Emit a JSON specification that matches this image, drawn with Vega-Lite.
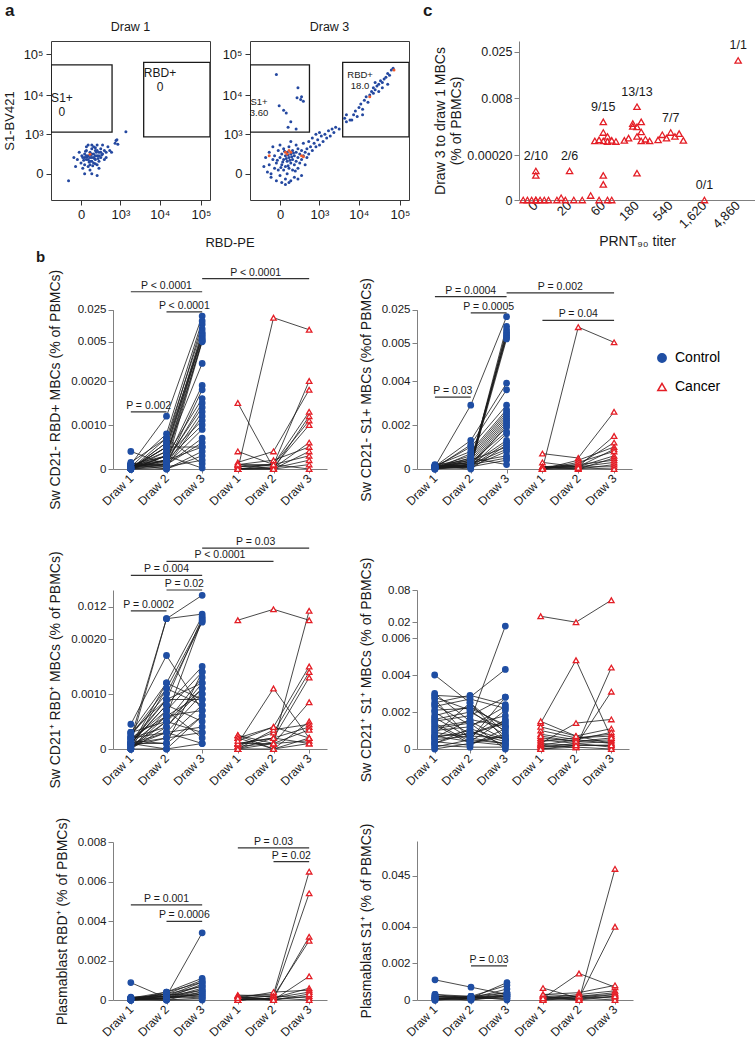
{
"$schema":"https://vega.github.io/schema/vega-lite/v6.json",
"padding":{"left":3,"top":2,"right":0,"bottom":0},
"background":"white",
"config":{"font":"Liberation Sans","view":{"stroke":null},
 "axis":{"grid":false,"labelFontSize":12,"titleFontSize":14,"titleFontWeight":"normal","labelColor":"#1a1a1a","titleColor":"#1a1a1a","domainColor":"#808080","tickColor":"#808080","labelOverlap":false,"labelSeparation":-8,"labelFlush":false},
 "title":{"fontWeight":"normal","fontSize":12,"color":"#1a1a1a"}},
"datasets":{
"f1":[{"x":-125,"y":-60},{"x":0,"y":103},{"x":13,"y":182},{"x":28,"y":81},{"x":28,"y":250},{"x":44,"y":153},{"x":44,"y":334},{"x":61,"y":61},{"x":61,"y":215},{"x":81,"y":127},{"x":81,"y":290},{"x":81,"y":28},{"x":103,"y":182},{"x":103,"y":382},{"x":127,"y":103},{"x":127,"y":250},{"x":153,"y":153},{"x":153,"y":334},{"x":182,"y":215},{"x":182,"y":81},{"x":215,"y":290},{"x":215,"y":127},{"x":250,"y":382},{"x":250,"y":182},{"x":290,"y":250},{"x":334,"y":334},{"x":334,"y":153},{"x":382,"y":290},{"x":435,"y":435},{"x":494,"y":334},{"x":61,"y":494},{"x":103,"y":494},{"x":182,"y":494},{"x":-28,"y":153},{"x":-44,"y":61},{"x":-13,"y":290},{"x":28,"y":0},{"x":103,"y":0},{"x":182,"y":-13},{"x":44,"y":435},{"x":290,"y":494},{"x":127,"y":435},{"x":13,"y":44},{"x":215,"y":44},{"x":-61,"y":182},{"x":71,"y":115},{"x":92,"y":232},{"x":140,"y":168},{"x":52,"y":198},{"x":168,"y":290},{"x":115,"y":71},{"x":559,"y":290},{"x":382,"y":182},{"x":20,"y":140},{"x":198,"y":168},{"x":36,"y":311},{"x":270,"y":232},{"x":6,"y":215},{"x":81,"y":81},{"x":153,"y":408},{"x":711,"y":559},{"x":799,"y":711},{"x":847,"y":526},{"x":753,"y":671},{"x":1398,"y":1188},{"x":61,"y":153},{"x":103,"y":250},{"x":153,"y":215},{"x":127,"y":182},{"x":81,"y":182},{"x":44,"y":215},{"x":103,"y":127},{"x":182,"y":334},{"x":215,"y":215},{"x":250,"y":290},{"x":28,"y":182},{"x":153,"y":94},{"x":81,"y":245,"h":1}],
"f3":[{"x":-182,"y":61},{"x":-153,"y":182},{"x":-127,"y":13},{"x":-103,"y":290},{"x":-103,"y":81},{"x":-81,"y":-28},{"x":-61,"y":153},{"x":-61,"y":435},{"x":-44,"y":44},{"x":-44,"y":215},{"x":-28,"y":-61},{"x":-28,"y":103},{"x":-13,"y":334},{"x":-13,"y":28},{"x":0,"y":182},{"x":0,"y":-13},{"x":0,"y":494},{"x":13,"y":81},{"x":13,"y":250},{"x":13,"y":-81},{"x":28,"y":153},{"x":28,"y":382},{"x":28,"y":28},{"x":44,"y":215},{"x":44,"y":61},{"x":44,"y":-44},{"x":61,"y":127},{"x":61,"y":290},{"x":61,"y":0},{"x":81,"y":182},{"x":81,"y":435},{"x":81,"y":44},{"x":81,"y":-81},{"x":103,"y":250},{"x":103,"y":103},{"x":103,"y":631},{"x":127,"y":153},{"x":127,"y":28},{"x":127,"y":334},{"x":153,"y":215},{"x":153,"y":81},{"x":153,"y":-28},{"x":182,"y":290},{"x":182,"y":127},{"x":182,"y":494},{"x":215,"y":182},{"x":215,"y":44},{"x":215,"y":382},{"x":250,"y":250},{"x":250,"y":103},{"x":290,"y":334},{"x":290,"y":153},{"x":290,"y":-13},{"x":334,"y":215},{"x":334,"y":559},{"x":382,"y":290},{"x":382,"y":81},{"x":435,"y":382},{"x":435,"y":182},{"x":494,"y":250},{"x":494,"y":631},{"x":559,"y":435},{"x":631,"y":334},{"x":711,"y":559},{"x":799,"y":435},{"x":20,"y":115},{"x":52,"y":168},{"x":71,"y":232},{"x":92,"y":140},{"x":36,"y":311},{"x":115,"y":198},{"x":140,"y":270},{"x":6,"y":52},{"x":168,"y":20},{"x":-20,"y":140},{"x":71,"y":71},{"x":44,"y":-103},{"x":103,"y":-61},{"x":215,"y":-44},{"x":-81,"y":0},
{"x":896,"y":711},{"x":1003,"y":494},{"x":1122,"y":896},{"x":1253,"y":631},{"x":1398,"y":1003},{"x":1559,"y":799},{"x":1737,"y":1253},{"x":1932,"y":896},{"x":2150,"y":1398},{"x":2386,"y":1122},{"x":2649,"y":1559},{"x":3250,"y":1398},{"x":1003,"y":1122},{"x":631,"y":799},{"x":799,"y":1003},
{"x":4450,"y":2649},{"x":4931,"y":2150},{"x":4931,"y":3250},{"x":6050,"y":2386},{"x":7418,"y":3250},{"x":8210,"y":4015},{"x":9090,"y":2941},{"x":10060,"y":4931},{"x":11130,"y":6050},{"x":12310,"y":4450},{"x":13620,"y":7418},{"x":15060,"y":9090},{"x":16660,"y":6700},{"x":18430,"y":10060},{"x":20380,"y":12310},{"x":22540,"y":11130},{"x":22540,"y":15060},{"x":24920,"y":13620},{"x":27550,"y":16660},{"x":30460,"y":18430},{"x":30460,"y":12310},{"x":33680,"y":22540},{"x":37240,"y":20380},{"x":37240,"y":15060},{"x":41160,"y":24920},{"x":45500,"y":27550},{"x":50300,"y":18430},{"x":50300,"y":33680},{"x":55610,"y":30460},{"x":61460,"y":41160},{"x":67950,"y":45500},{"x":24920,"y":20380},{"x":6700,"y":2386},{"x":12310,"y":3250},
{"x":-28,"y":32030},{"x":215,"y":15060},{"x":198,"y":8640},{"x":270,"y":7800},{"x":334,"y":7050},{"x":290,"y":9090},{"x":-6,"y":5463},{"x":28,"y":4226},{"x":52,"y":3620},{"x":103,"y":2150},{"x":71,"y":1559},{"x":182,"y":1398},
{"x":44,"y":290,"h":1},{"x":81,"y":334,"h":1},{"x":61,"y":250,"h":1},{"x":103,"y":290,"h":1},{"x":290,"y":215,"h":1},{"x":334,"y":198,"h":1},{"x":-103,"y":215,"h":1},{"x":18430,"y":9090,"h":1},{"x":71440,"y":41160,"h":1}],
"g1":[{"x1":-540,"x2":580,"y1":1150,"y2":55000},{"x1":3980,"x2":165000,"y1":850,"y2":63000}],
"g3":[{"x1":-540,"x2":520,"y1":1150,"y2":55000},{"x1":3980,"x2":165000,"y1":850,"y2":63000}],
"l1":[{"x":-236,"y":11480,"lab":"S1+\n0"},{"x":10060,"y":45000,"lab":"RBD+\n0"}],
"l3":[{"x":-277,"y":9175,"lab":"S1+\n3.60"},{"x":10700,"y":40340,"lab":"RBD+\n18.0"}],
"cpts":[{"t":"0","j":3,"v":0.00013},{"t":"0","j":3,"v":0.00011},{"t":"0","j":0,"v":0},{"t":"0","j":1,"v":0},{"t":"0","j":2,"v":0},{"t":"0","j":3,"v":0},{"t":"0","j":4,"v":0},{"t":"0","j":5,"v":0},{"t":"0","j":6,"v":0},{"t":"0","j":3,"v":0},
{"t":"20","j":3,"v":0.00013},{"t":"20","j":1,"v":0.00001},{"t":"20","j":0,"v":0},{"t":"20","j":2,"v":0},{"t":"20","j":4,"v":0},{"t":"20","j":6,"v":0},
{"t":"60","j":3,"v":0.0038},{"t":"60","j":3,"v":0.0019},{"t":"60","j":4,"v":0.0012},{"t":"60","j":2,"v":0.0006},{"t":"60","j":5,"v":0.0005},{"t":"60","j":1,"v":0.0004},{"t":"60","j":3,"v":0.0004},{"t":"60","j":4,"v":0.0003},{"t":"60","j":6,"v":0.0003},{"t":"60","j":3,"v":0.00011},{"t":"60","j":3,"v":0.00007},{"t":"60","j":0,"v":0.00002},{"t":"60","j":2,"v":0},{"t":"60","j":4,"v":0},{"t":"60","j":5,"v":0},
{"t":"180","j":3,"v":0.0065},{"t":"180","j":4,"v":0.0038},{"t":"180","j":2,"v":0.0035},{"t":"180","j":2,"v":0.003},{"t":"180","j":3,"v":0.0029},{"t":"180","j":4,"v":0.002},{"t":"180","j":3,"v":0.0012},{"t":"180","j":1,"v":0.0009},{"t":"180","j":5,"v":0.0007},{"t":"180","j":0,"v":0.0005},{"t":"180","j":6,"v":0.0004},{"t":"180","j":4,"v":0.0004},{"t":"180","j":3,"v":0.00012},
{"t":"540","j":3,"v":0.0019},{"t":"540","j":5,"v":0.0017},{"t":"540","j":1,"v":0.0015},{"t":"540","j":4,"v":0.0012},{"t":"540","j":2,"v":0.0009},{"t":"540","j":0,"v":0.0006},{"t":"540","j":6,"v":0.0005},
{"t":"1,620","j":3,"v":0},{"t":"4,860","j":3,"v":0.021}],
"clab":[{"t":"0","lab":"2/10","v":0.00013},{"t":"20","lab":"2/6","v":0.00013},{"t":"60","lab":"9/15","v":0.0038},{"t":"180","lab":"13/13","v":0.0065},{"t":"540","lab":"7/7","v":0.0019},{"t":"1,620","lab":"0/1","v":0},{"t":"4,860","lab":"1/1","v":0.021}],
"b1":[{"s":1,"g":"Control","1":0.0001,"2":0.0012,"3":0.021},{"s":2,"g":"Control","1":0.00005,"2":0.0008,"3":0.018},{"s":3,"g":"Control","1":0,"2":0.0006,"3":0.016},{"s":4,"g":"Control","1":0.00015,"2":0.0007,"3":0.013},{"s":5,"g":"Control","1":0,"2":0.0005,"3":0.011},{"s":6,"g":"Control","1":0.00005,"2":0.0004,"3":0.01},{"s":7,"g":"Control","1":0.0001,"2":0.0003,"3":0.009},{"s":8,"g":"Control","1":0,"2":0.0006,"3":0.008},{"s":9,"g":"Control","1":0.00002,"2":0.0005,"3":0.007},{"s":10,"g":"Control","1":0.0001,"2":0.0002,"3":0.006},{"s":11,"g":"Control","1":0,"2":0.0003,"3":0.0055},{"s":12,"g":"Control","1":0.00005,"2":0.0001,"3":0.005},{"s":13,"g":"Control","1":0,"2":0.0004,"3":0.0024},{"s":14,"g":"Control","1":0.00003,"2":0.0002,"3":0.0019},{"s":15,"g":"Control","1":0.0001,"2":0.0001,"3":0.0018},{"s":16,"g":"Control","1":0,"2":0.0003,"3":0.0016},{"s":17,"g":"Control","1":0.00005,"2":0.00015,"3":0.0015},{"s":18,"g":"Control","1":0,"2":0.0002,"3":0.0014},{"s":19,"g":"Control","1":0.00002,"2":0.0001,"3":0.0013},{"s":20,"g":"Control","1":0.0001,"2":0.00005,"3":0.0012},{"s":21,"g":"Control","1":0,"2":0.0003,"3":0.0011},{"s":22,"g":"Control","1":0.00005,"2":0.0002,"3":0.001},{"s":23,"g":"Control","1":0,"2":0.0001,"3":0.0007},{"s":24,"g":"Control","1":0.0004,"2":0.0001,"3":0.0006},{"s":25,"g":"Control","1":0.00002,"2":0.0005,"3":0.0005},{"s":26,"g":"Control","1":0.0001,"2":0,"3":0.0004},{"s":27,"g":"Control","1":0,"2":0.0007,"3":0.00012},{"s":28,"g":"Control","1":0.00005,"2":0.0003,"3":0.00002},{"s":29,"g":"Control","1":0,"2":0,"3":0.0003},{"s":30,"g":"Control","1":0.00012,"2":0.0001,"3":0.0009},{"s":31,"g":"Control","1":0,"2":0.00005,"3":0.0002},{"s":32,"g":"Control","1":0.00003,"2":0.0002,"3":0.0005},
{"s":101,"g":"Cancer","4":0,"5":0.02,"6":0.0125},{"s":102,"g":"Cancer","4":0.0015,"5":0.00002,"6":0.0006},{"s":103,"g":"Cancer","4":0.0004,"5":0.0001,"6":0.002},{"s":104,"g":"Cancer","4":0.00015,"5":0.0004,"6":0.0018},{"s":105,"g":"Cancer","4":0.0001,"5":0.0001,"6":0.0013},{"s":106,"g":"Cancer","4":0,"5":0,"6":0.0012},{"s":107,"g":"Cancer","4":0.00005,"5":0.0001,"6":0.0011},{"s":108,"g":"Cancer","4":0,"5":0.00005,"6":0.001},{"s":109,"g":"Cancer","4":0.0001,"5":0.0002,"6":0.0005},{"s":110,"g":"Cancer","4":0,"5":0,"6":0.0004},{"s":111,"g":"Cancer","4":0.00005,"5":0.0001,"6":0.0003},{"s":112,"g":"Cancer","4":0,"5":0.00002,"6":0.0002},{"s":113,"g":"Cancer","4":0.0001,"5":0,"6":0.0001},{"s":114,"g":"Cancer","4":0,"5":0.0001,"6":0}],
"b2":[{"s":1,"g":"Control","1":0.0001,"2":0.0029,"3":0.0208},{"s":2,"g":"Control","1":0.00005,"2":0.0002,"3":0.015},{"s":3,"g":"Control","1":0.0001,"2":0.0001,"3":0.013},{"s":4,"g":"Control","1":0.00015,"2":0.0003,"3":0.0115},{"s":5,"g":"Control","1":0.00002,"2":0.0001,"3":0.0105},{"s":6,"g":"Control","1":0.0001,"2":0.0002,"3":0.0095},{"s":7,"g":"Control","1":0.00008,"2":0.0004,"3":0.0085},{"s":8,"g":"Control","1":0.0001,"2":0.0001,"3":0.0075},{"s":9,"g":"Control","1":0.00012,"2":0.0013,"3":0.0039},{"s":10,"g":"Control","1":0.00005,"2":0.0011,"3":0.0036},{"s":11,"g":"Control","1":0.0001,"2":0.001,"3":0.0029},{"s":12,"g":"Control","1":0.00015,"2":0.0008,"3":0.0027},{"s":13,"g":"Control","1":0,"2":0.0007,"3":0.0026},{"s":14,"g":"Control","1":0.0001,"2":0.0006,"3":0.0025},{"s":15,"g":"Control","1":0.00008,"2":0.0005,"3":0.0024},{"s":16,"g":"Control","1":0.0002,"2":0.0004,"3":0.0023},{"s":17,"g":"Control","1":0.00005,"2":0.0003,"3":0.0022},{"s":18,"g":"Control","1":0.0001,"2":0.0002,"3":0.0021},{"s":19,"g":"Control","1":0.00012,"2":0.0001,"3":0.002},{"s":20,"g":"Control","1":0,"2":0.0002,"3":0.0019},{"s":21,"g":"Control","1":0.0001,"2":0.0003,"3":0.0017},{"s":22,"g":"Control","1":0.00005,"2":0.0001,"3":0.0016},{"s":23,"g":"Control","1":0.0001,"2":0.0002,"3":0.0013},{"s":24,"g":"Control","1":0.00015,"2":0.0001,"3":0.0012},{"s":25,"g":"Control","1":0.0001,"2":0,"3":0.0011},{"s":26,"g":"Control","1":0.00005,"2":0.0004,"3":0.001},{"s":27,"g":"Control","1":0.0001,"2":0.0002,"3":0.0009},{"s":28,"g":"Control","1":0,"2":0.0001,"3":0.0008},{"s":29,"g":"Control","1":0.0001,"2":0.0003,"3":0.0006},{"s":30,"g":"Control","1":0.00008,"2":0.0002,"3":0.0005},{"s":31,"g":"Control","1":0.0001,"2":0.0001,"3":0.0004},{"s":32,"g":"Control","1":0.00005,"2":0.0005,"3":0.0002},
{"s":101,"g":"Cancer","4":0,"5":0.0146,"6":0.0055},{"s":102,"g":"Cancer","4":0.0007,"5":0.0005,"6":0.0026},{"s":103,"g":"Cancer","4":0.0003,"5":0.0001,"6":0.0015},{"s":104,"g":"Cancer","4":0.0001,"5":0.0002,"6":0.0012},{"s":105,"g":"Cancer","4":0,"5":0.0004,"6":0.001},{"s":106,"g":"Cancer","4":0.0001,"5":0.0001,"6":0.0009},{"s":107,"g":"Cancer","4":0,"5":0.0003,"6":0.0008},{"s":108,"g":"Cancer","4":0.00005,"5":0.0001,"6":0.0006},{"s":109,"g":"Cancer","4":0.0001,"5":0,"6":0.0005},{"s":110,"g":"Cancer","4":0,"5":0.0002,"6":0.0004},{"s":111,"g":"Cancer","4":0.00005,"5":0.0001,"6":0.0003},{"s":112,"g":"Cancer","4":0,"5":0,"6":0.0002},{"s":113,"g":"Cancer","4":0.0001,"5":0.0001,"6":0.0001},{"s":114,"g":"Cancer","4":0,"5":0.00005,"6":0}],
"b3":[{"s":1,"g":"Control","1":0.0002,"2":0.0046,"3":0.0188},{"s":2,"g":"Control","1":0.0001,"2":0.0046,"3":0.0074},{"s":3,"g":"Control","1":0.00005,"2":0.0012,"3":0.006},{"s":4,"g":"Control","1":0.0003,"2":0.0009,"3":0.005},{"s":5,"g":"Control","1":0.0001,"2":0.0006,"3":0.004},{"s":6,"g":"Control","1":0.00045,"2":0.0017,"3":0.0007},{"s":7,"g":"Control","1":0,"2":0.0011,"3":0.0032},{"s":8,"g":"Control","1":0.00025,"2":0.001,"3":0.0025},{"s":9,"g":"Control","1":0.0001,"2":0.0008,"3":0.0015},{"s":10,"g":"Control","1":0.00015,"2":0.0007,"3":0.0014},{"s":11,"g":"Control","1":0,"2":0.0005,"3":0.0013},{"s":12,"g":"Control","1":0.0001,"2":0.0009,"3":0.0012},{"s":13,"g":"Control","1":0.0002,"2":0.0004,"3":0.0011},{"s":14,"g":"Control","1":0.00005,"2":0.0003,"3":0.001},{"s":15,"g":"Control","1":0.0003,"2":0.0012,"3":0.0009},{"s":16,"g":"Control","1":0.0001,"2":0.0002,"3":0.0008},{"s":17,"g":"Control","1":0,"2":0.0006,"3":0.0007},{"s":18,"g":"Control","1":0.00015,"2":0.0001,"3":0.0006},{"s":19,"g":"Control","1":0.0001,"2":0.0008,"3":0.0005},{"s":20,"g":"Control","1":0.0002,"2":0.0003,"3":0.0004},{"s":21,"g":"Control","1":0.00005,"2":0.0005,"3":0.0003},{"s":22,"g":"Control","1":0,"2":0.0007,"3":0.0002},{"s":23,"g":"Control","1":0.0001,"2":0,"3":0.0001},{"s":24,"g":"Control","1":0.00025,"2":0.0011,"3":0.0008},{"s":25,"g":"Control","1":0,"2":0.0004,"3":0.0012},{"s":26,"g":"Control","1":0.0001,"2":0.0001,"3":0.0014},{"s":27,"g":"Control","1":0.00005,"2":0.0002,"3":0.0003},{"s":28,"g":"Control","1":0.0002,"2":0.0006,"3":0.001},{"s":29,"g":"Control","1":0,"2":0,"3":0.0006},{"s":30,"g":"Control","1":0.0001,"2":0.0003,"3":0.0001},{"s":31,"g":"Control","1":0.0003,"2":0.0005,"3":0.0011},{"s":32,"g":"Control","1":0.00015,"2":0.0009,"3":0.0009},
{"s":101,"g":"Cancer","4":0.0037,"5":0.0103,"6":0.0037},{"s":102,"g":"Cancer","4":0.00025,"5":0.0001,"6":0.0094},{"s":103,"g":"Cancer","4":0.0001,"5":0.0011,"6":0.0002},{"s":104,"g":"Cancer","4":0.0002,"5":0.0004,"6":0.0015},{"s":105,"g":"Cancer","4":0.00005,"5":0.0003,"6":0.0014},{"s":106,"g":"Cancer","4":0,"5":0.0002,"6":0.0013},{"s":107,"g":"Cancer","4":0.0001,"5":0.0001,"6":0.00085},{"s":108,"g":"Cancer","4":0.00025,"5":0,"6":0.0005},{"s":109,"g":"Cancer","4":0,"5":0.00035,"6":0.00045},{"s":110,"g":"Cancer","4":0.0001,"5":0.0002,"6":0.0004},{"s":111,"g":"Cancer","4":0.00005,"5":0.0001,"6":0.00035},{"s":112,"g":"Cancer","4":0.0002,"5":0,"6":0.0002},{"s":113,"g":"Cancer","4":0,"5":0.0001,"6":0.00015},{"s":114,"g":"Cancer","4":0.0001,"5":0.0002,"6":0.0001},{"s":115,"g":"Cancer","4":0.00015,"5":0.0004,"6":0.0002},{"s":116,"g":"Cancer","4":0,"5":0,"6":0.0001}],
"b4":[{"s":1,"g":"Control","1":0.004,"2":0.0025,"3":0.0005},{"s":2,"g":"Control","1":0.003,"2":0.0015,"3":0.0128},{"s":3,"g":"Control","1":0.0029,"2":0.0028,"3":0.0043},{"s":4,"g":"Control","1":0.0027,"2":0.0005,"3":0.0028},{"s":5,"g":"Control","1":0.0025,"2":0.0029,"3":0.0024},{"s":6,"g":"Control","1":0.0023,"2":0.0027,"3":0.0022},{"s":7,"g":"Control","1":0.002,"2":0.0008,"3":0.0015},{"s":8,"g":"Control","1":0.0018,"2":0.0023,"3":0.0012},{"s":9,"g":"Control","1":0.0016,"2":0.002,"3":0.001},{"s":10,"g":"Control","1":0.0015,"2":0.0018,"3":0.0028},{"s":11,"g":"Control","1":0.0013,"2":0.0003,"3":0.0007},{"s":12,"g":"Control","1":0.0012,"2":0.0015,"3":0.0005},{"s":13,"g":"Control","1":0.001,"2":0.0012,"3":0.0023},{"s":14,"g":"Control","1":0.0009,"2":0.0006,"3":0.0003},{"s":15,"g":"Control","1":0.0008,"2":0.0025,"3":0.0009},{"s":16,"g":"Control","1":0.0007,"2":0.0004,"3":0.0016},{"s":17,"g":"Control","1":0.0006,"2":0.001,"3":0.0002},{"s":18,"g":"Control","1":0.0005,"2":0.0007,"3":0.0006},{"s":19,"g":"Control","1":0.0004,"2":0.0002,"3":0.0011},{"s":20,"g":"Control","1":0.0003,"2":0.0009,"3":0.0004},{"s":21,"g":"Control","1":0.0002,"2":0.0001,"3":0.0001},{"s":22,"g":"Control","1":0.0001,"2":0.0005,"3":0.0003},{"s":23,"g":"Control","1":0,"2":0.0003,"3":0.0008},{"s":24,"g":"Control","1":0.0021,"2":0.0022,"3":0.0013},{"s":25,"g":"Control","1":0.0011,"2":0.0014,"3":0},{"s":26,"g":"Control","1":0.0017,"2":0.0006,"3":0.0021},{"s":27,"g":"Control","1":0.0006,"2":0.0016,"3":0.0012},{"s":28,"g":"Control","1":0.0028,"2":0.0021,"3":0.0007},{"s":29,"g":"Control","1":0.0003,"2":0.0011,"3":0.0005},{"s":30,"g":"Control","1":0.0014,"2":0.0004,"3":0.0002},{"s":31,"g":"Control","1":0.0024,"2":0.0013,"3":0.0018},{"s":32,"g":"Control","1":0.0007,"2":0.0008,"3":0.0014},
{"s":101,"g":"Cancer","4":0.031,"5":0.02,"6":0.061},{"s":102,"g":"Cancer","4":0.0014,"5":0.0048,"6":0.0006},{"s":103,"g":"Cancer","4":0.0002,"5":0.0001,"6":0.0044},{"s":104,"g":"Cancer","4":0.0003,"5":0.0014,"6":0.0016},{"s":105,"g":"Cancer","4":0.0001,"5":0.0002,"6":0.0031},{"s":106,"g":"Cancer","4":0.0015,"5":0.0007,"6":0.0011},{"s":107,"g":"Cancer","4":0.001,"5":0.0006,"6":0.0008},{"s":108,"g":"Cancer","4":0.0008,"5":0.0005,"6":0.0009},{"s":109,"g":"Cancer","4":0.0006,"5":0.0004,"6":0.0005},{"s":110,"g":"Cancer","4":0.0005,"5":0.0003,"6":0.0004},{"s":111,"g":"Cancer","4":0.0004,"5":0.0006,"6":0.0007},{"s":112,"g":"Cancer","4":0.0003,"5":0.0002,"6":0.0002},{"s":113,"g":"Cancer","4":0.0002,"5":0.0005,"6":0.0003},{"s":114,"g":"Cancer","4":0.0001,"5":0.0003,"6":0.0001},{"s":115,"g":"Cancer","4":0,"5":0.0001,"6":0},{"s":116,"g":"Cancer","4":0.0007,"5":0.0004,"6":0.0006},{"s":117,"g":"Cancer","4":0.0012,"5":0.0007,"6":0.0003},{"s":118,"g":"Cancer","4":0,"5":0.0002,"6":0.0002}],
"b5":[{"s":1,"g":"Control","1":0.00088,"2":0.0001,"3":0.0003},{"s":2,"g":"Control","1":0.00015,"2":0.0002,"3":0.0034},{"s":3,"g":"Control","1":0.0001,"2":0.0004,"3":0.0011},{"s":4,"g":"Control","1":0.00005,"2":0.0003,"3":0.001},{"s":5,"g":"Control","1":0,"2":0.0002,"3":0.0009},{"s":6,"g":"Control","1":0.0001,"2":0.0001,"3":0.0008},{"s":7,"g":"Control","1":0.00005,"2":0.0003,"3":0.0007},{"s":8,"g":"Control","1":0,"2":0.0001,"3":0.0006},{"s":9,"g":"Control","1":0.0001,"2":0.0002,"3":0.0005},{"s":10,"g":"Control","1":0.00005,"2":0,"3":0.0004},{"s":11,"g":"Control","1":0,"2":0.0001,"3":0.0003},{"s":12,"g":"Control","1":0.0001,"2":0.0003,"3":0.0002},{"s":13,"g":"Control","1":0.00005,"2":0.0002,"3":0.0001},{"s":14,"g":"Control","1":0,"2":0,"3":0},{"s":15,"g":"Control","1":0.0001,"2":0.0001,"3":0.0005},{"s":16,"g":"Control","1":0,"2":0.0002,"3":0.0007},{"s":17,"g":"Control","1":0.00005,"2":0.0001,"3":0.0002},{"s":18,"g":"Control","1":0,"2":0.0004,"3":0.0009},{"s":19,"g":"Control","1":0.0001,"2":0,"3":0.0001},{"s":20,"g":"Control","1":0,"2":0.0001,"3":0.0004},
{"s":101,"g":"Cancer","4":0.0002,"5":0.0003,"6":0.0065},{"s":102,"g":"Cancer","4":0.0001,"5":0.0002,"6":0.0054},{"s":103,"g":"Cancer","4":0,"5":0.0001,"6":0.0032},{"s":104,"g":"Cancer","4":0.00025,"5":0.0002,"6":0.003},{"s":105,"g":"Cancer","4":0.0001,"5":0,"6":0.0012},{"s":106,"g":"Cancer","4":0,"5":0.0001,"6":0.0006},{"s":107,"g":"Cancer","4":0.0001,"5":0.0004,"6":0.0005},{"s":108,"g":"Cancer","4":0,"5":0.0001,"6":0.0004},{"s":109,"g":"Cancer","4":0.0002,"5":0,"6":0.0002},{"s":110,"g":"Cancer","4":0.0001,"5":0.0002,"6":0.0001},{"s":111,"g":"Cancer","4":0,"5":0.0001,"6":0},{"s":112,"g":"Cancer","4":0.0001,"5":0,"6":0.0003}],
"b6":[{"s":1,"g":"Control","1":0.0011,"2":0.0007,"3":0.0003},{"s":2,"g":"Control","1":0.0003,"2":0.0001,"3":0.00095},{"s":3,"g":"Control","1":0.0002,"2":0.0002,"3":0.0008},{"s":4,"g":"Control","1":0.0001,"2":0.0001,"3":0.0006},{"s":5,"g":"Control","1":0,"2":0.0002,"3":0.0004},{"s":6,"g":"Control","1":0.0002,"2":0.0001,"3":0.0003},{"s":7,"g":"Control","1":0.0001,"2":0,"3":0.0002},{"s":8,"g":"Control","1":0,"2":0.0001,"3":0.0001},{"s":9,"g":"Control","1":0.0001,"2":0.0002,"3":0},{"s":10,"g":"Control","1":0.0002,"2":0.0001,"3":0.0002},{"s":11,"g":"Control","1":0.0001,"2":0,"3":0.0003},{"s":12,"g":"Control","1":0,"2":0.0001,"3":0.0001},{"s":13,"g":"Control","1":0.0003,"2":0.0002,"3":0.0002},{"s":14,"g":"Control","1":0.0001,"2":0.0001,"3":0.0004},
{"s":101,"g":"Cancer","4":0.0001,"5":0.00145,"6":0.0007},{"s":102,"g":"Cancer","4":0.00065,"5":0.0001,"6":0.0003},{"s":103,"g":"Cancer","4":0.0002,"5":0,"6":0.046},{"s":104,"g":"Cancer","4":0.0001,"5":0.0001,"6":0.004},{"s":105,"g":"Cancer","4":0.0003,"5":0.0004,"6":0.0008},{"s":106,"g":"Cancer","4":0.0001,"5":0.0003,"6":0.0005},{"s":107,"g":"Cancer","4":0,"5":0.0002,"6":0.0004},{"s":108,"g":"Cancer","4":0.0002,"5":0.0001,"6":0.0002},{"s":109,"g":"Cancer","4":0.0001,"5":0.0002,"6":0.0001},{"s":110,"g":"Cancer","4":0,"5":0.0001,"6":0},{"s":111,"g":"Cancer","4":0.0003,"5":0.0002,"6":0.0003},{"s":112,"g":"Cancer","4":0.0001,"5":0,"6":0.0002}],
"a1":[{"id":1,"t":"P < 0.0001","x1":3,"x2":6,"y":0.0444},{"id":2,"t":"P < 0.0001","x1":1,"x2":3,"y":0.0362},{"id":3,"t":"P < 0.0001","x1":2,"x2":3,"y":0.0236},{"id":4,"t":"P = 0.002","x1":1,"x2":2,"y":0.0013}],
"a2":[{"id":1,"t":"P = 0.002","x1":3,"x2":6,"y":0.0351},{"id":2,"t":"P = 0.0004","x1":1,"x2":3,"y":0.0328},{"id":3,"t":"P = 0.0005","x1":2,"x2":3,"y":0.0231},{"id":4,"t":"P = 0.04","x1":4,"x2":6,"y":0.0186},{"id":5,"t":"P = 0.03","x1":1,"x2":2,"y":0.00327}],
"a3":[{"id":1,"t":"P = 0.03","x1":3,"x2":6,"y":0.0474},{"id":2,"t":"P < 0.0001","x1":2,"x2":5,"y":0.0394},{"id":3,"t":"P = 0.004","x1":1,"x2":3,"y":0.0309},{"id":4,"t":"P = 0.02","x1":2,"x2":3,"y":0.022},{"id":5,"t":"P = 0.0002","x1":1,"x2":2,"y":0.0094}],
"a5":[{"id":1,"t":"P = 0.03","x1":4,"x2":6,"y":0.0077},{"id":2,"t":"P = 0.02","x1":5,"x2":6,"y":0.00701},{"id":3,"t":"P = 0.001","x1":1,"x2":3,"y":0.00482},{"id":4,"t":"P = 0.0006","x1":2,"x2":3,"y":0.00398}],
"a6":[{"id":1,"t":"P = 0.03","x1":2,"x2":3,"y":0.00186}],
"z":[{"v":0}]
},
"spacing":0,
"vconcat":[
{"hconcat":[
{"width":1,"height":159,"title":{"text":"a","anchor":"start","frame":"group","fontSize":17,"fontWeight":"bold","dx":-45,"offset":21},"data":{"name":"z"},"mark":{"type":"point","opacity":0},"encoding":{"x":{"field":"v","type":"quantitative","axis":null},"y":{"field":"v","type":"quantitative","axis":null}}},
{"width":159,"height":159,"title":{"text":"Draw 1","offset":8,"fontSize":12.5},"view":{"stroke":"#3a3a3a","strokeWidth":1},
 "layer":[
  {"data":{"name":"g1"},"mark":{"type":"rect","fill":"transparent","stroke":"#1a1a1a","strokeWidth":1.3,"clip":true},
   "encoding":{"x":{"field":"x1","type":"quantitative","scale":{"type":"symlog","constant":125,"domain":[-540,165000],"nice":false,"zero":false},"axis":{"values":[0,1000,10000,100000],"labelExpr":"datum.value === 0 ? '0' : datum.value === 1000 ? '10³' : datum.value === 10000 ? '10⁴' : '10⁵'","tickSize":5,"domain":false,"tickColor":"#333","labelFontSize":13,"labelPadding":3,"title":null}},
    "x2":{"field":"x2"},
    "y":{"field":"y1","type":"quantitative","scale":{"type":"symlog","constant":125,"domain":[-420,208600],"nice":false,"zero":false},"axis":{"values":[0,1000,10000,100000],"labelExpr":"datum.value === 0 ? '0' : datum.value === 1000 ? '10³' : datum.value === 10000 ? '10⁴' : '10⁵'","tickSize":5,"domain":false,"tickColor":"#333","labelFontSize":13,"labelPadding":3,"title":"S1-BV421","titleFontSize":13,"titlePadding":6}},
    "y2":{"field":"y2"}}},
  {"data":{"name":"f1"},"mark":{"type":"circle","size":9,"opacity":1},
   "encoding":{"x":{"field":"x","type":"quantitative"},"y":{"field":"y","type":"quantitative"},"color":{"condition":{"test":"datum.h === 1","value":"#ef5a2a"},"value":"#2448a0"}}},
  {"data":{"name":"l1"},"mark":{"type":"text","align":"center","baseline":"top","lineBreak":"\n","fontSize":12,"lineHeight":14,"color":"#1a1a1a"},
   "encoding":{"x":{"field":"x","type":"quantitative"},"y":{"field":"y","type":"quantitative"},"text":{"field":"lab"}}}
 ]},
{"width":40,"height":159,"title":{"text":"RBD-PE","orient":"bottom","anchor":"middle","frame":"group","offset":37,"fontSize":13},"data":{"name":"z"},"mark":{"type":"point","opacity":0},"encoding":{"x":{"field":"v","type":"quantitative","axis":null},"y":{"field":"v","type":"quantitative","axis":null}}},
{"width":159,"height":159,"title":{"text":"Draw 3","offset":8,"fontSize":12.5},"view":{"stroke":"#3a3a3a","strokeWidth":1},
 "layer":[
  {"data":{"name":"g3"},"mark":{"type":"rect","fill":"transparent","stroke":"#1a1a1a","strokeWidth":1.3,"clip":true},
   "encoding":{"x":{"field":"x1","type":"quantitative","scale":{"type":"symlog","constant":125,"domain":[-540,165000],"nice":false,"zero":false},"axis":{"values":[0,1000,10000,100000],"labelExpr":"datum.value === 0 ? '0' : datum.value === 1000 ? '10³' : datum.value === 10000 ? '10⁴' : '10⁵'","tickSize":5,"domain":false,"tickColor":"#333","labelFontSize":13,"labelPadding":3,"title":null}},
    "x2":{"field":"x2"},
    "y":{"field":"y1","type":"quantitative","scale":{"type":"symlog","constant":125,"domain":[-420,208600],"nice":false,"zero":false},"axis":{"values":[0,1000,10000,100000],"labelExpr":"datum.value === 0 ? '0' : datum.value === 1000 ? '10³' : datum.value === 10000 ? '10⁴' : '10⁵'","tickSize":5,"domain":false,"tickColor":"#333","labelFontSize":13,"labelPadding":3,"title":null}},
    "y2":{"field":"y2"}}},
  {"data":{"name":"f3"},"mark":{"type":"circle","size":9,"opacity":1},
   "encoding":{"x":{"field":"x","type":"quantitative"},"y":{"field":"y","type":"quantitative"},"color":{"condition":{"test":"datum.h === 1","value":"#ef5a2a"},"value":"#2448a0"}}},
  {"data":{"name":"l3"},"mark":{"type":"text","align":"center","baseline":"top","lineBreak":"\n","fontSize":9.5,"lineHeight":11,"color":"#1a1a1a"},
   "encoding":{"x":{"field":"x","type":"quantitative"},"y":{"field":"y","type":"quantitative"},"text":{"field":"lab"}}}
 ]},
{"width":110,"height":159,"title":{"text":"c","anchor":"start","frame":"group","fontSize":17,"fontWeight":"bold","dx":14,"offset":21},"data":{"name":"z"},"mark":{"type":"point","opacity":0},"encoding":{"x":{"field":"v","type":"quantitative","axis":null},"y":{"field":"v","type":"quantitative","axis":null}}},
{"width":236,"height":159,
 "layer":[
   {"data":{"name":"cpts"},"mark":{"type":"point","shape":"triangle-up","filled":false,"color":"#e41e26","size":40,"strokeWidth":1.3,"opacity":1},
    "encoding":{"x":{"field":"t","type":"ordinal","scale":{"domain":["0","20","60","180","540","1,620","4,860"],"paddingInner":0,"paddingOuter":0},"axis":{"labelAngle":-45,"labelAlign":"right","labelBaseline":"middle","ticks":false,"labelPadding":3,"labelFontSize":13,"title":"PRNT₉₀ titer","titleFontSize":14,"titlePadding":4}},
     "xOffset":{"field":"j","type":"ordinal","scale":{"domain":[0,1,2,3,4,5,6],"paddingOuter":1,"paddingInner":0}},
     "y":{"field":"v","type":"quantitative","scale":{"domain":[0,0.0002,0.00021,0.008,0.01,0.03],"range":[159,114.3,101,57.3,43.3,0],"nice":false,"zero":false},"axis":{"values":[0,0.00005,0.0001,0.00015,0.0002,0.002,0.004,0.006,0.008,0.01,0.015,0.02,0.025,0.03],"labelExpr":"datum.value == 0 ? '0' : datum.value < 0.001 ? format(datum.value, '.5f') : format(datum.value, '.3f')","title":["Draw 3 to draw 1 MBCs","(% of PBMCs)"],"titlePadding":3,"tickSize":5,"labelFontSize":12.5,"labelPadding":2}}}},
   {"data":{"name":"clab"},"mark":{"type":"text","baseline":"middle","dy":-15,"fontSize":12.5,"color":"#1a1a1a"},
    "encoding":{"x":{"field":"t","type":"ordinal"},"y":{"field":"v","type":"quantitative"},"text":{"field":"lab"}}}
 ]}
],"bounds":"flush","spacing":0},
{"concat":[
{"width":63,"height":204,"title":{"text":"b","anchor":"start","frame":"group","fontSize":15,"fontWeight":"bold","color":"#ffffff","dx":-45,"offset":0},"data":{"name":"z"},"mark":{"type":"point","opacity":0},"encoding":{"x":{"field":"v","type":"quantitative","axis":null},"y":{"field":"v","type":"quantitative","axis":null}}},
{"width":214,"height":204,"title":{"text":"b","anchor":"start","frame":"group","fontSize":15,"fontWeight":"bold","dx":-77,"offset":0},
 "layer":[
   {"data":{"name":"b1"},"transform":[{"fold":["1","2","3","4","5","6"],"as":["d","v"]},{"filter":"isValid(datum.v)"}],"mark":{"type":"line","color":"#1a1a1a","strokeWidth":0.8},
    "encoding":{"x":{"field":"d","type":"quantitative","scale":{"domain":[0.5,6.5],"nice":false,"zero":false},"axis":{"values":[1,2,3,4,5,6],"labelExpr":"'Draw ' + ((datum.value - 1) % 3 + 1)","labelAngle":-45,"labelAlign":"right","labelBaseline":"middle","title":null,"tickSize":4,"labelPadding":3}},
     "y":{"field":"v","type":"quantitative","scale":{"domain":[0,0.0025,0.003,0.025],"range":[204,94,80,44.7],"nice":false,"zero":false},"axis":{"values":[0,0.0005,0.001,0.0015,0.002,0.0025,0.005,0.015,0.025],"labelExpr":"datum.value == 0 ? '0' : datum.value < 0.003 ? format(datum.value, '.4f') : format(datum.value, '.3f')","title":"Sw CD21- RBD+ MBCs (% of PBMCs)","titlePadding":8,"tickSize":5,"labelPadding":2,"labelFontSize":11.5}},"detail":{"field":"s","type":"nominal"}}},
   {"data":{"name":"b1"},"transform":[{"fold":["1","2","3","4","5","6"],"as":["d","v"]},{"filter":"isValid(datum.v)"}],"mark":{"type":"point","filled":true,"size":30,"strokeWidth":1.3,"opacity":1},
    "encoding":{"x":{"field":"d","type":"quantitative"},"y":{"field":"v","type":"quantitative"},
     "shape":{"field":"g","type":"nominal","scale":{"domain":["Control","Cancer"],"range":["circle","triangle-up"]},"legend":null},
     "fill":{"field":"g","type":"nominal","scale":{"domain":["Control","Cancer"],"range":["#1f4ea3","#ffffff"]},"legend":null},
     "stroke":{"field":"g","type":"nominal","scale":{"domain":["Control","Cancer"],"range":["#1f4ea3","#e41e26"]},"legend":null}}},
   {"data":{"name":"a1"},"mark":{"type":"rule","color":"#333","strokeWidth":1.2},
    "encoding":{"x":{"field":"x1","type":"quantitative"},"x2":{"field":"x2"},"y":{"field":"y","type":"quantitative"}}},
   {"data":{"name":"a1"},"transform":[{"fold":["x1","x2"],"as":["e","xv"]},{"aggregate":[{"op":"mean","field":"xv","as":"xm"}],"groupby":["id","t","y"]}],"mark":{"type":"text","baseline":"bottom","dy":-1,"fontSize":10.5,"color":"#1a1a1a"},
    "encoding":{"x":{"field":"xm","type":"quantitative"},"y":{"field":"y","type":"quantitative"},"text":{"field":"t"}}}
 ]},
{"width":90,"height":204,"data":{"name":"z"},"mark":{"type":"point","opacity":0},"encoding":{"x":{"field":"v","type":"quantitative","axis":null},"y":{"field":"v","type":"quantitative","axis":null}}},
{"width":215,"height":204,
 "layer":[
   {"data":{"name":"b2"},"transform":[{"fold":["1","2","3","4","5","6"],"as":["d","v"]},{"filter":"isValid(datum.v)"}],"mark":{"type":"line","color":"#1a1a1a","strokeWidth":0.8},
    "encoding":{"x":{"field":"d","type":"quantitative","scale":{"domain":[0.5,6.5],"nice":false,"zero":false},"axis":{"values":[1,2,3,4,5,6],"labelExpr":"'Draw ' + ((datum.value - 1) % 3 + 1)","labelAngle":-45,"labelAlign":"right","labelBaseline":"middle","title":null,"tickSize":4,"labelPadding":3}},
     "y":{"field":"v","type":"quantitative","scale":{"domain":[0,0.005,0.0051,0.025],"range":[204,94,78,44.7],"nice":false,"zero":false},"axis":{"values":[0,0.001,0.002,0.003,0.004,0.005,0.0051,0.015,0.025],"labelExpr":"datum.value == 0 ? '0' : format(datum.value, '.3f')","title":"Sw CD21- S1+ MBCs (%of PBMCs)","titlePadding":8,"tickSize":5,"labelPadding":2,"labelFontSize":11.5}},"detail":{"field":"s","type":"nominal"}}},
   {"data":{"name":"b2"},"transform":[{"fold":["1","2","3","4","5","6"],"as":["d","v"]},{"filter":"isValid(datum.v)"}],"mark":{"type":"point","filled":true,"size":30,"strokeWidth":1.3,"opacity":1},
    "encoding":{"x":{"field":"d","type":"quantitative"},"y":{"field":"v","type":"quantitative"},
     "shape":{"field":"g","type":"nominal","scale":{"domain":["Control","Cancer"],"range":["circle","triangle-up"]},"legend":{"title":null,"orient":"none","legendX":238,"legendY":86,"labelFontSize":14,"symbolSize":70,"rowPadding":14,"labelOffset":6,"symbolStrokeWidth":1.5,"padding":0}},
     "fill":{"field":"g","type":"nominal","scale":{"domain":["Control","Cancer"],"range":["#1f4ea3","#ffffff"]},"legend":{"title":null,"orient":"none","legendX":238,"legendY":86,"labelFontSize":14,"symbolSize":70,"rowPadding":14,"labelOffset":6,"symbolStrokeWidth":1.5,"padding":0}},
     "stroke":{"field":"g","type":"nominal","scale":{"domain":["Control","Cancer"],"range":["#1f4ea3","#e41e26"]},"legend":{"title":null,"orient":"none","legendX":238,"legendY":86,"labelFontSize":14,"symbolSize":70,"rowPadding":14,"labelOffset":6,"symbolStrokeWidth":1.5,"padding":0}}}},
   {"data":{"name":"a2"},"mark":{"type":"rule","color":"#333","strokeWidth":1.2},
    "encoding":{"x":{"field":"x1","type":"quantitative"},"x2":{"field":"x2"},"y":{"field":"y","type":"quantitative"}}},
   {"data":{"name":"a2"},"transform":[{"fold":["x1","x2"],"as":["e","xv"]},{"aggregate":[{"op":"mean","field":"xv","as":"xm"}],"groupby":["id","t","y"]}],"mark":{"type":"text","baseline":"bottom","dy":-1,"fontSize":10.5,"color":"#1a1a1a"},
    "encoding":{"x":{"field":"xm","type":"quantitative"},"y":{"field":"y","type":"quantitative"},"text":{"field":"t"}}}
 ]},
{"width":63,"height":209,"data":{"name":"z"},"mark":{"type":"point","opacity":0},"encoding":{"x":{"field":"v","type":"quantitative","axis":null},"y":{"field":"v","type":"quantitative","axis":null}}},
{"width":214,"height":209,
 "layer":[
   {"data":{"name":"b3"},"transform":[{"fold":["1","2","3","4","5","6"],"as":["d","v"]},{"filter":"isValid(datum.v)"}],"mark":{"type":"line","color":"#1a1a1a","strokeWidth":0.8},
    "encoding":{"x":{"field":"d","type":"quantitative","scale":{"domain":[0.5,6.5],"nice":false,"zero":false},"axis":{"values":[1,2,3,4,5,6],"labelExpr":"'Draw ' + ((datum.value - 1) % 3 + 1)","labelAngle":-45,"labelAlign":"right","labelBaseline":"middle","title":null,"tickSize":4,"labelPadding":3}},
     "y":{"field":"v","type":"quantitative","scale":{"domain":[0,0.002,0.00201,0.022],"range":[209,99,83,50],"nice":false,"zero":false},"axis":{"values":[0,0.0005,0.001,0.0015,0.002,0.00201,0.012,0.022],"labelExpr":"datum.value == 0 ? '0' : datum.value < 0.002001 ? format(datum.value, '.4f') : format(datum.value, '.3f')","title":"Sw CD21⁺ RBD⁺ MBCs (% of PBMCs)","titlePadding":8,"tickSize":5,"labelPadding":2,"labelFontSize":11.5}},"detail":{"field":"s","type":"nominal"}}},
   {"data":{"name":"b3"},"transform":[{"fold":["1","2","3","4","5","6"],"as":["d","v"]},{"filter":"isValid(datum.v)"}],"mark":{"type":"point","filled":true,"size":30,"strokeWidth":1.3,"opacity":1},
    "encoding":{"x":{"field":"d","type":"quantitative"},"y":{"field":"v","type":"quantitative"},
     "shape":{"field":"g","type":"nominal","scale":{"domain":["Control","Cancer"],"range":["circle","triangle-up"]},"legend":null},
     "fill":{"field":"g","type":"nominal","scale":{"domain":["Control","Cancer"],"range":["#1f4ea3","#ffffff"]},"legend":null},
     "stroke":{"field":"g","type":"nominal","scale":{"domain":["Control","Cancer"],"range":["#1f4ea3","#e41e26"]},"legend":null}}},
   {"data":{"name":"a3"},"mark":{"type":"rule","color":"#333","strokeWidth":1.2},
    "encoding":{"x":{"field":"x1","type":"quantitative"},"x2":{"field":"x2"},"y":{"field":"y","type":"quantitative"}}},
   {"data":{"name":"a3"},"transform":[{"fold":["x1","x2"],"as":["e","xv"]},{"aggregate":[{"op":"mean","field":"xv","as":"xm"}],"groupby":["id","t","y"]}],"mark":{"type":"text","baseline":"bottom","dy":-1,"fontSize":10.5,"color":"#1a1a1a"},
    "encoding":{"x":{"field":"xm","type":"quantitative"},"y":{"field":"y","type":"quantitative"},"text":{"field":"t"}}}
 ]},
{"width":90,"height":209,"data":{"name":"z"},"mark":{"type":"point","opacity":0},"encoding":{"x":{"field":"v","type":"quantitative","axis":null},"y":{"field":"v","type":"quantitative","axis":null}}},
{"width":212,"height":209,
 "layer":[
   {"data":{"name":"b4"},"transform":[{"fold":["1","2","3","4","5","6"],"as":["d","v"]},{"filter":"isValid(datum.v)"}],"mark":{"type":"line","color":"#1a1a1a","strokeWidth":0.8},
    "encoding":{"x":{"field":"d","type":"quantitative","scale":{"domain":[0.5,6.5],"nice":false,"zero":false},"axis":{"values":[1,2,3,4,5,6],"labelExpr":"'Draw ' + ((datum.value - 1) % 3 + 1)","labelAngle":-45,"labelAlign":"right","labelBaseline":"middle","title":null,"tickSize":4,"labelPadding":3}},
     "y":{"field":"v","type":"quantitative","scale":{"domain":[0,0.006,0.011,0.08],"range":[209,98,87,50],"nice":false,"zero":false},"axis":{"values":[0,0.002,0.004,0.006,0.02,0.08],"labelExpr":"datum.value == 0 ? '0' : datum.value < 0.01 ? format(datum.value, '.3f') : format(datum.value, '.2f')","title":"Sw CD21⁺ S1⁺ MBCs (% of PBMCs)","titlePadding":8,"tickSize":5,"labelPadding":2,"labelFontSize":11.5}},"detail":{"field":"s","type":"nominal"}}},
   {"data":{"name":"b4"},"transform":[{"fold":["1","2","3","4","5","6"],"as":["d","v"]},{"filter":"isValid(datum.v)"}],"mark":{"type":"point","filled":true,"size":30,"strokeWidth":1.3,"opacity":1},
    "encoding":{"x":{"field":"d","type":"quantitative"},"y":{"field":"v","type":"quantitative"},
     "shape":{"field":"g","type":"nominal","scale":{"domain":["Control","Cancer"],"range":["circle","triangle-up"]},"legend":null},
     "fill":{"field":"g","type":"nominal","scale":{"domain":["Control","Cancer"],"range":["#1f4ea3","#ffffff"]},"legend":null},
     "stroke":{"field":"g","type":"nominal","scale":{"domain":["Control","Cancer"],"range":["#1f4ea3","#e41e26"]},"legend":null}}}
 ]},
{"width":63,"height":180,"data":{"name":"z"},"mark":{"type":"point","opacity":0},"encoding":{"x":{"field":"v","type":"quantitative","axis":null},"y":{"field":"v","type":"quantitative","axis":null}}},
{"width":214,"height":180,
 "layer":[
   {"data":{"name":"b5"},"transform":[{"fold":["1","2","3","4","5","6"],"as":["d","v"]},{"filter":"isValid(datum.v)"}],"mark":{"type":"line","color":"#1a1a1a","strokeWidth":0.8},
    "encoding":{"x":{"field":"d","type":"quantitative","scale":{"domain":[0.5,6.5],"nice":false,"zero":false},"axis":{"values":[1,2,3,4,5,6],"labelExpr":"'Draw ' + ((datum.value - 1) % 3 + 1)","labelAngle":-45,"labelAlign":"right","labelBaseline":"middle","title":null,"tickSize":4,"labelPadding":3}},
     "y":{"field":"v","type":"quantitative","scale":{"domain":[0,0.008],"range":[180,22],"nice":false,"zero":false},"axis":{"values":[0,0.002,0.004,0.006,0.008],"labelExpr":"datum.value == 0 ? '0' : format(datum.value, '.3f')","title":"Plasmablast RBD⁺ (% of PBMCs)","titlePadding":8,"tickSize":5,"labelPadding":2,"labelFontSize":11.5}},"detail":{"field":"s","type":"nominal"}}},
   {"data":{"name":"b5"},"transform":[{"fold":["1","2","3","4","5","6"],"as":["d","v"]},{"filter":"isValid(datum.v)"}],"mark":{"type":"point","filled":true,"size":30,"strokeWidth":1.3,"opacity":1},
    "encoding":{"x":{"field":"d","type":"quantitative"},"y":{"field":"v","type":"quantitative"},
     "shape":{"field":"g","type":"nominal","scale":{"domain":["Control","Cancer"],"range":["circle","triangle-up"]},"legend":null},
     "fill":{"field":"g","type":"nominal","scale":{"domain":["Control","Cancer"],"range":["#1f4ea3","#ffffff"]},"legend":null},
     "stroke":{"field":"g","type":"nominal","scale":{"domain":["Control","Cancer"],"range":["#1f4ea3","#e41e26"]},"legend":null}}},
   {"data":{"name":"a5"},"mark":{"type":"rule","color":"#333","strokeWidth":1.2},
    "encoding":{"x":{"field":"x1","type":"quantitative"},"x2":{"field":"x2"},"y":{"field":"y","type":"quantitative"}}},
   {"data":{"name":"a5"},"transform":[{"fold":["x1","x2"],"as":["e","xv"]},{"aggregate":[{"op":"mean","field":"xv","as":"xm"}],"groupby":["id","t","y"]}],"mark":{"type":"text","baseline":"bottom","dy":-1,"fontSize":10.5,"color":"#1a1a1a"},
    "encoding":{"x":{"field":"xm","type":"quantitative"},"y":{"field":"y","type":"quantitative"},"text":{"field":"t"}}}
 ]},
{"width":90,"height":180,"data":{"name":"z"},"mark":{"type":"point","opacity":0},"encoding":{"x":{"field":"v","type":"quantitative","axis":null},"y":{"field":"v","type":"quantitative","axis":null}}},
{"width":216,"height":180,
 "layer":[
   {"data":{"name":"b6"},"transform":[{"fold":["1","2","3","4","5","6"],"as":["d","v"]},{"filter":"isValid(datum.v)"}],"mark":{"type":"line","color":"#1a1a1a","strokeWidth":0.8},
    "encoding":{"x":{"field":"d","type":"quantitative","scale":{"domain":[0.5,6.5],"nice":false,"zero":false},"axis":{"values":[1,2,3,4,5,6],"labelExpr":"'Draw ' + ((datum.value - 1) % 3 + 1)","labelAngle":-45,"labelAlign":"right","labelBaseline":"middle","title":null,"tickSize":4,"labelPadding":3}},
     "y":{"field":"v","type":"quantitative","scale":{"domain":[0,0.004,0.04,0.05],"range":[180,106.7,90.7,21],"nice":false,"zero":false},"axis":{"values":[0,0.001,0.002,0.003,0.004,0.04,0.045,0.05],"labelExpr":"datum.value == 0 ? '0' : format(datum.value, '.3f')","title":"Plasmablast S1⁺ (% of PBMCs)","titlePadding":8,"tickSize":5,"labelPadding":2,"labelFontSize":11.5}},"detail":{"field":"s","type":"nominal"}}},
   {"data":{"name":"b6"},"transform":[{"fold":["1","2","3","4","5","6"],"as":["d","v"]},{"filter":"isValid(datum.v)"}],"mark":{"type":"point","filled":true,"size":30,"strokeWidth":1.3,"opacity":1},
    "encoding":{"x":{"field":"d","type":"quantitative"},"y":{"field":"v","type":"quantitative"},
     "shape":{"field":"g","type":"nominal","scale":{"domain":["Control","Cancer"],"range":["circle","triangle-up"]},"legend":null},
     "fill":{"field":"g","type":"nominal","scale":{"domain":["Control","Cancer"],"range":["#1f4ea3","#ffffff"]},"legend":null},
     "stroke":{"field":"g","type":"nominal","scale":{"domain":["Control","Cancer"],"range":["#1f4ea3","#e41e26"]},"legend":null}}},
   {"data":{"name":"a6"},"mark":{"type":"rule","color":"#333","strokeWidth":1.2},
    "encoding":{"x":{"field":"x1","type":"quantitative"},"x2":{"field":"x2"},"y":{"field":"y","type":"quantitative"}}},
   {"data":{"name":"a6"},"transform":[{"fold":["x1","x2"],"as":["e","xv"]},{"aggregate":[{"op":"mean","field":"xv","as":"xm"}],"groupby":["id","t","y"]}],"mark":{"type":"text","baseline":"bottom","dy":-1,"fontSize":10.5,"color":"#1a1a1a"},
    "encoding":{"x":{"field":"xm","type":"quantitative"},"y":{"field":"y","type":"quantitative"},"text":{"field":"t"}}}
 ]}
],
"columns":4,"bounds":"flush","align":"each","spacing":{"row":71,"column":0},
"resolve":{"scale":{"shape":"independent","fill":"independent","stroke":"independent"},"legend":{"shape":"independent","fill":"independent","stroke":"independent"}}}
]
}
